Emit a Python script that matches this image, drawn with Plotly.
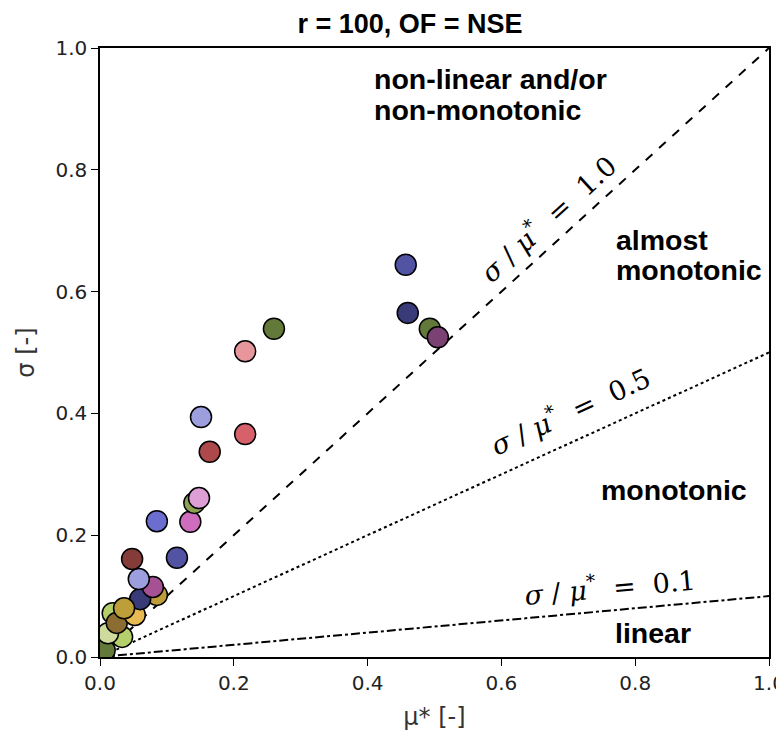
import plotly.graph_objects as go

# data (mu*, sigma)
mu_star = [0.003, 0.007, 0.033, 0.012, 0.019, 0.025, 0.052, 0.085, 0.060, 0.036,
           0.079, 0.058, 0.048, 0.115, 0.085, 0.135, 0.141, 0.148, 0.164, 0.217,
           0.151, 0.217, 0.260, 0.457, 0.460, 0.493, 0.505]
sigma = [0.003, 0.011, 0.033, 0.039, 0.072, 0.056, 0.069, 0.102, 0.095, 0.080,
         0.115, 0.128, 0.161, 0.163, 0.223, 0.222, 0.253, 0.261, 0.337, 0.366,
         0.394, 0.502, 0.539, 0.644, 0.565, 0.539, 0.525]
colors = ["#393b79", "#637939", "#b5cf6b", "#cedb9c", "#b5cf6b", "#8c6d31", "#e7ba52", "#bd9e39",
          "#393b79", "#bd9e39", "#a55194", "#9c9ede", "#843c39", "#5254a3", "#6b6ecf", "#ce6dbd",
          "#8ca252", "#de9ed6", "#ad494a", "#d6616b", "#9c9ede", "#e7969c", "#637939", "#5254a3",
          "#393b79", "#637939", "#7b4173"]

tick_vals = [0.0, 0.2, 0.4, 0.6, 0.8, 1.0]
tick_text = ["0.0", "0.2", "0.4", "0.6", "0.8", "1.0"]

ratios = [1.0, 0.5, 0.1]
ratio_dash = ["dash", "dot", "dashdot"]
ratio_label_pos = [(0.668, 0.722, -42.3), (0.703, 0.406, -24.5), (0.762, 0.118, -5.2)]

region_lines = ["non-linear and/or", "non-monotonic", "almost", "monotonic", "monotonic", "linear"]
region_pos = [(0.4065, 0.949, "left"), (0.4065, 0.899, "left"),
              (0.769, 0.685, "left"), (0.769, 0.636, "left"),
              (0.858, 0.274, "center"), (0.826, 0.040, "center")]

fig = go.Figure()

for r, d in zip(ratios, ratio_dash):
    fig.add_trace(go.Scatter(x=[0, 1], y=[0, r], mode="lines",
                             line=dict(color="black", width=2, dash=d),
                             showlegend=False, hoverinfo="skip"))

fig.add_trace(go.Scatter(x=mu_star, y=sigma, mode="markers",
                         marker=dict(size=21, color=colors, line=dict(color="black", width=1.5)),
                         showlegend=False))

for r, (x, y, a) in zip(ratios, ratio_label_pos):
    fig.add_annotation(x=x, y=y, xref="x", yref="y", showarrow=False, textangle=a,
                       text=f"<i>σ</i> / <i>μ</i><sup>*</sup>  =  {r:.1f}",
                       font=dict(family="DejaVu Serif", size=27, color="black"))

for t, (x, y, al) in zip(region_lines, region_pos):
    fig.add_annotation(x=x, y=y, xref="x", yref="y", showarrow=False, text=f"<b>{t}</b>",
                       align=al, xanchor=al if al == "left" else "center", yanchor="middle",
                       font=dict(family="Liberation Sans", size=28.5, color="black"))

axis_common = dict(range=[0, 1], showgrid=False, zeroline=False, showline=True, mirror=True,
                   linecolor="black", linewidth=1.5, ticks="outside", ticklen=7, tickwidth=1.3,
                   tickcolor="black", tickmode="array", tickvals=tick_vals, ticktext=tick_text,
                   automargin=False, ticklabeloverflow="allow",
                   tickfont=dict(family="DejaVu Sans", size=20, color="#222"))

# the page body adds an 8px offset, so the figure is 8px smaller and margins shifted
fig.update_layout(
    width=776, height=724,
    margin=dict(l=92, r=15, t=40, b=75),
    plot_bgcolor="white", paper_bgcolor="white",
    title=dict(text="<b>r = 100, OF = NSE</b>", x=0.518, xref="container", xanchor="center",
               y=0.979, yref="container", yanchor="middle", automargin=False,
               font=dict(family="Liberation Sans", size=27, color="black")),
    xaxis=dict(**axis_common, title=dict(text="μ* [-]", standoff=14,
               font=dict(family="DejaVu Sans", size=24, color="#333"))),
    yaxis=dict(**axis_common, title=dict(text="σ [-]", standoff=14,
               font=dict(family="DejaVu Sans", size=24, color="#333"))),
)

fig.write_html("out.html")
